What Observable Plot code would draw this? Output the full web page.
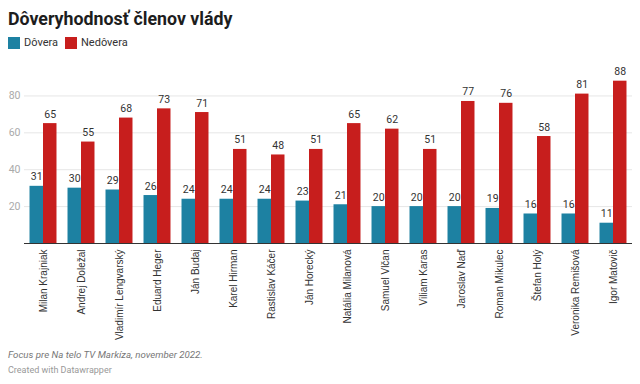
<!DOCTYPE html>
<html>
<head>
<meta charset="utf-8">
<script src="https://cdn.jsdelivr.net/npm/d3@7"></script>
<script src="https://cdn.jsdelivr.net/npm/@observablehq/plot@0.6"></script>
<style>
  html, body { margin: 0; padding: 0; background: #fff; }
  body { width: 640px; height: 384px; position: relative; overflow: hidden; font-family: Roboto, sans-serif; }
  #title { position: absolute; left: 8px; top: 7px; font-size: 17.8px; font-weight: 700; color: #1d1d1d; line-height: 24px; white-space: nowrap; }
  #legend { position: absolute; left: 8px; top: 36px; display: flex; align-items: center; font-size: 11px; color: #333; line-height: 13px; }
  .sw { display: inline-block; width: 12px; height: 12px; margin-right: 4px; }
  .item { display: flex; align-items: center; margin-right: 7px; }
  #chart { position: absolute; left: 0; top: 57px; }
  #caption { position: absolute; left: 8px; top: 348px; font-size: 9.7px; font-style: italic; color: #777; line-height: 13px; }
  #credit { position: absolute; left: 8px; top: 364px; font-size: 9px; color: #999; line-height: 12px; }
</style>
</head>
<body>
<div id="title">Dôveryhodnosť členov vlády</div>
<div id="legend"></div>
<div id="chart"></div>
<div id="caption">Focus pre Na telo TV Markíza, november 2022.</div>
<div id="credit">Created with Datawrapper</div>
<script>
const names = ["Milan Krajniak", "Andrej Doležal", "Vladimír Lengvarský", "Eduard Heger", "Ján Budaj", "Karel Hirman", "Rastislav Káčer", "Ján Horecký", "Natália Milanová", "Samuel Vlčan", "Viliam Karas", "Jaroslav Naď", "Roman Mikulec", "Štefan Holý", "Veronika Remišová", "Igor Matovič"];
const trust = [31, 30, 29, 26, 24, 24, 24, 23, 21, 20, 20, 20, 19, 16, 16, 11];
const distrust = [65, 55, 68, 73, 71, 51, 48, 51, 65, 62, 51, 77, 76, 58, 81, 88];
const seriesNames = ["Dôvera", "Nedôvera"];
const seriesColors = ["#1d81a2", "#c71e1d"];
const yTicks = [20, 40, 60, 80];

// legend
const legend = document.getElementById("legend");
seriesNames.forEach((s, k) => {
  const it = document.createElement("span");
  it.className = "item";
  it.innerHTML = `<span class="sw" style="background:${seriesColors[k]}"></span>${s}`;
  legend.appendChild(it);
});

const half = 0.355;
const rows = names.map((n, i) => ({name: n, i, trust: trust[i], distrust: distrust[i]}));

const chart = Plot.plot({
  width: 640,
  height: 286,
  marginTop: 20,
  marginBottom: 100,
  marginLeft: 24,
  marginRight: 8,
  style: {fontFamily: "Roboto, sans-serif", background: "transparent"},
  x: {type: "linear", domain: [-0.5, names.length - 0.5], axis: null},
  y: {domain: [0, 90], axis: null},
  marks: [
    Plot.gridY(yTicks, {stroke: "#e6e6e6", strokeOpacity: 1}),
    Plot.text(yTicks, {x: -0.5, y: d => d, text: d => String(d), textAnchor: "end", dx: -4, fill: "#aaa", fontSize: 10.5}),
    Plot.rectY(rows, {x1: d => d.i - half, x2: d => d.i, y1: 0, y2: "trust", fill: seriesColors[0]}),
    Plot.rectY(rows, {x1: d => d.i, x2: d => d.i + half, y1: 0, y2: "distrust", fill: seriesColors[1]}),
    Plot.text(rows, {x: d => d.i - half / 2, y: "trust", text: d => String(d.trust), dy: -6, lineAnchor: "bottom", fill: "#333", fontSize: 10.5}),
    Plot.text(rows, {x: d => d.i + half / 2, y: "distrust", text: d => String(d.distrust), dy: -6, lineAnchor: "bottom", fill: "#333", fontSize: 10.5}),
    Plot.ruleY([0], {stroke: "#333", strokeWidth: 1}),
    Plot.text(rows, {x: "i", y: 0, text: "name", rotate: -90, textAnchor: "end", dy: 6, fill: "#333", fontSize: 10, fontFamily: "'Liberation Sans', Arial, sans-serif"})
  ]
});
document.getElementById("chart").appendChild(chart);
</script>
</body>
</html>
